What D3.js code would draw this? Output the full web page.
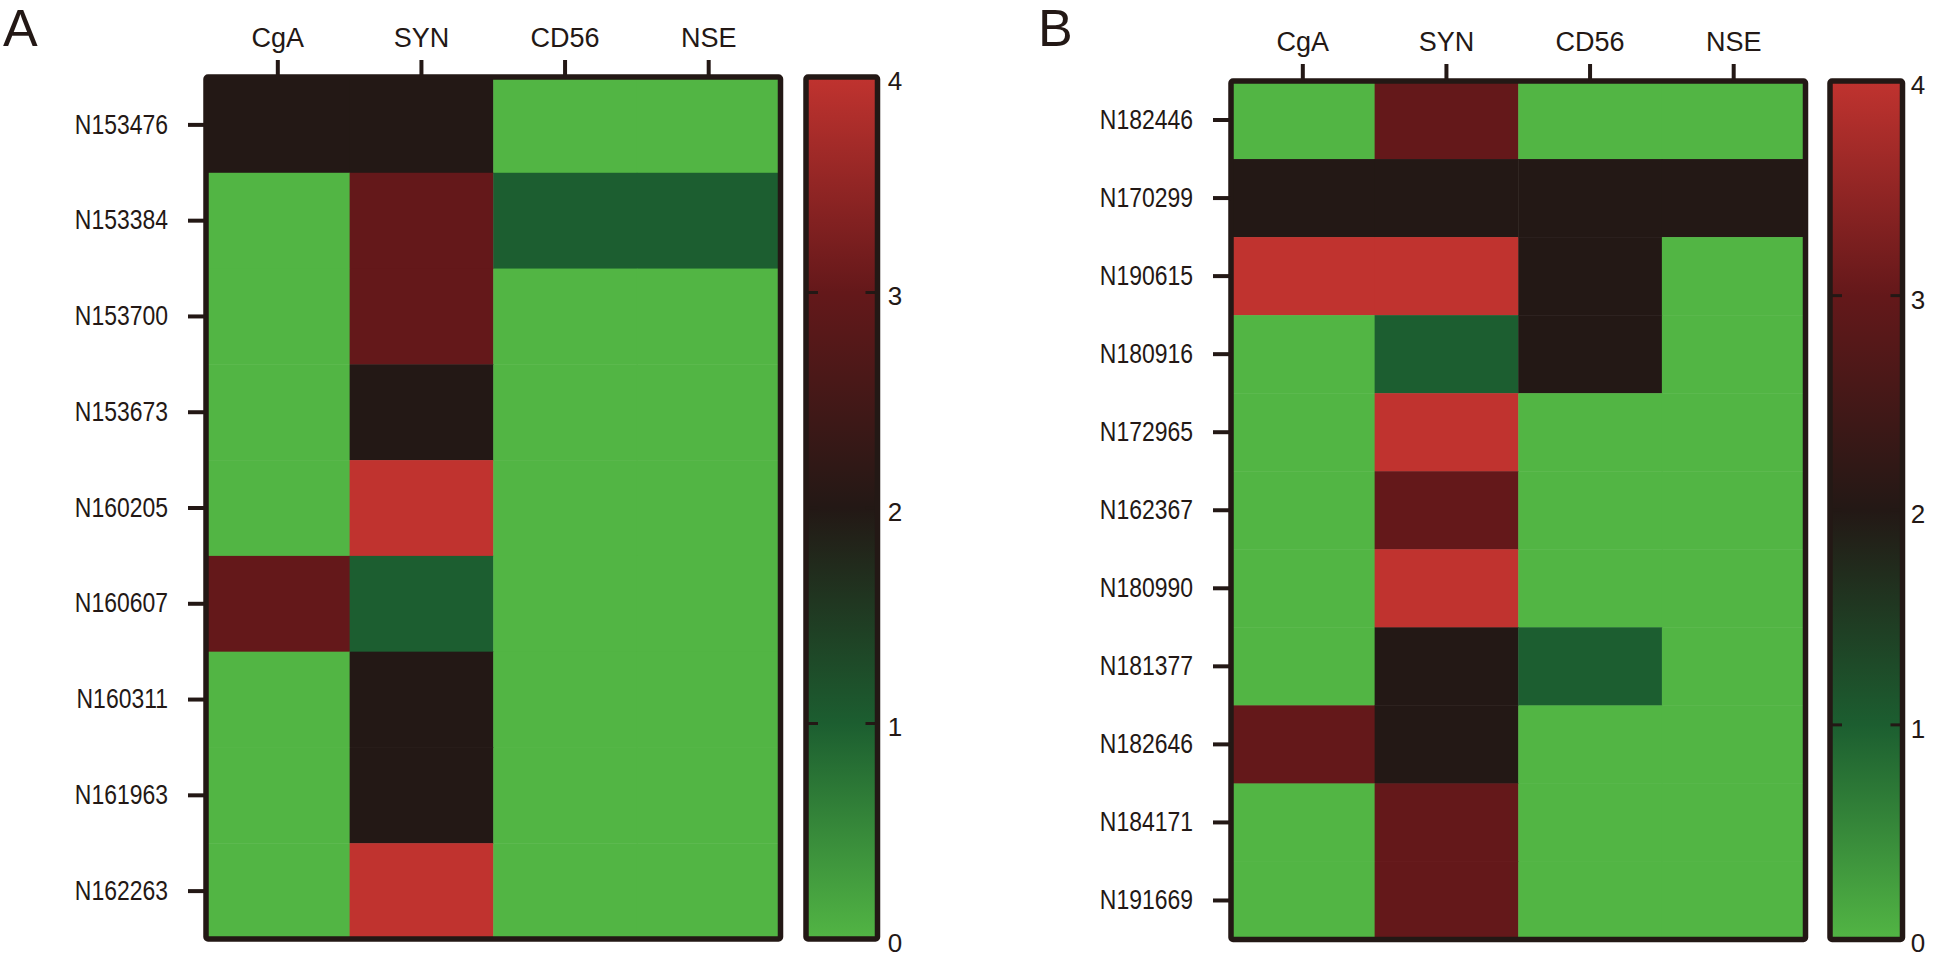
<!DOCTYPE html>
<html>
<head>
<meta charset="utf-8">
<script src="https://cdn.jsdelivr.net/npm/d3@7"></script>
<style>
  html, body { margin: 0; padding: 0; background: #ffffff; }
  svg { display: block; }
  text { font-family: "Liberation Sans", Arial, Helvetica, sans-serif; fill: #231815; }
</style>
</head>
<body>
<svg id="chart" width="1944" height="957"></svg>
<script>
// ---------- data ----------
const markers = ["CgA", "SYN", "CD56", "NSE"];

const samplesA = ["N153476", "N153384", "N153700", "N153673", "N160205",
                  "N160607", "N160311", "N161963", "N162263"];
const valuesA = [
  [2, 2, 0, 0],
  [0, 3, 1, 1],
  [0, 3, 0, 0],
  [0, 2, 0, 0],
  [0, 4, 0, 0],
  [3, 1, 0, 0],
  [0, 2, 0, 0],
  [0, 2, 0, 0],
  [0, 4, 0, 0]
];

const samplesB = ["N182446", "N170299", "N190615", "N180916", "N172965", "N162367",
                  "N180990", "N181377", "N182646", "N184171", "N191669"];
const valuesB = [
  [0, 3, 0, 0],
  [2, 2, 2, 2],
  [4, 4, 2, 0],
  [0, 1, 2, 0],
  [0, 4, 0, 0],
  [0, 3, 0, 0],
  [0, 4, 0, 0],
  [0, 2, 1, 0],
  [3, 2, 0, 0],
  [0, 3, 0, 0],
  [0, 3, 0, 0]
];

const legendTicks = [0, 1, 2, 3, 4];
const innerTicks = [1, 2, 3];
const colorStops = ["#52b544", "#1c5e30", "#231815", "#64181a", "#c0332f"];

// ---------- drawing ----------
const INK = "#231815";
const color = d3.scaleLinear().domain(legendTicks).range(colorStops).interpolate(d3.interpolateRgb);

const svg = d3.select("#chart");
const defs = svg.append("defs");

function drawPanel(cfg) {
  const g = svg.append("g");
  const x = d3.scaleBand().domain(markers).range([cfg.x0, cfg.x1]);
  const y = d3.scaleBand().domain(cfg.rows).range([cfg.y0, cfg.y1]);

  // cells
  const cells = [];
  cfg.rows.forEach((r, i) => markers.forEach((m, j) => cells.push({ r, m, v: cfg.values[i][j] })));
  g.selectAll("rect.cell").data(cells).join("rect")
    .attr("class", "cell")
    .attr("x", d => x(d.m))
    .attr("y", d => y(d.r))
    .attr("width", x.bandwidth() + 0.5)
    .attr("height", y.bandwidth() + 0.5)
    .attr("fill", d => color(d.v));

  // frame
  g.append("rect")
    .attr("x", cfg.x0).attr("y", cfg.y0)
    .attr("width", cfg.x1 - cfg.x0).attr("height", cfg.y1 - cfg.y0)
    .attr("rx", 2)
    .attr("fill", "none").attr("stroke", INK).attr("stroke-width", 5.5);

  // top axis
  const top = g.append("g").attr("transform", `translate(0,${cfg.y0})`)
    .call(d3.axisTop(x).tickSize(17).tickSizeOuter(0).tickPadding(13));
  top.select(".domain").remove();
  top.selectAll(".tick line").attr("stroke", INK).attr("stroke-width", 4);
  top.selectAll(".tick text").attr("font-size", 27).attr("fill", INK).attr("font-family", null);

  // left axis
  const left = g.append("g").attr("transform", `translate(${cfg.x0},0)`)
    .call(d3.axisLeft(y).tickSize(18).tickSizeOuter(0).tickPadding(20));
  left.select(".domain").remove();
  left.selectAll(".tick line").attr("stroke", INK).attr("stroke-width", 4);
  left.selectAll(".tick text").attr("font-size", 27).attr("fill", INK).attr("font-family", null)
    .each(function () {
      const w = this.getComputedTextLength();
      d3.select(this).attr("textLength", w * 0.85).attr("lengthAdjust", "spacingAndGlyphs");
    });

  // panel letter
  g.append("text").attr("x", cfg.letterX).attr("y", 46)
    .attr("font-size", 52).text(cfg.letter);

  // colour bar
  const cy = d3.scaleLinear().domain([0, 4]).range([cfg.y1, cfg.y0]);
  const gid = "grad" + cfg.letter;
  const grad = defs.append("linearGradient").attr("id", gid)
    .attr("x1", 0).attr("x2", 0).attr("y1", 1).attr("y2", 0);
  grad.selectAll("stop").data(legendTicks).join("stop")
    .attr("offset", d => d / 4)
    .attr("stop-color", d => color(d));
  g.append("rect")
    .attr("x", cfg.cb0).attr("y", cfg.y0)
    .attr("width", cfg.cb1 - cfg.cb0).attr("height", cfg.y1 - cfg.y0)
    .attr("fill", `url(#${gid})`);
  // inner ticks on both sides
  g.selectAll("line.cbl").data(innerTicks).join("line")
    .attr("x1", cfg.cb0).attr("x2", cfg.cb0 + 12)
    .attr("y1", d => cy(d)).attr("y2", d => cy(d))
    .attr("stroke", INK).attr("stroke-width", 3);
  g.selectAll("line.cbr").data(innerTicks).join("line")
    .attr("x1", cfg.cb1 - 12).attr("x2", cfg.cb1)
    .attr("y1", d => cy(d)).attr("y2", d => cy(d))
    .attr("stroke", INK).attr("stroke-width", 3);
  g.append("rect")
    .attr("x", cfg.cb0).attr("y", cfg.y0)
    .attr("width", cfg.cb1 - cfg.cb0).attr("height", cfg.y1 - cfg.y0)
    .attr("rx", 2)
    .attr("fill", "none").attr("stroke", INK).attr("stroke-width", 5.5);
  g.selectAll("text.cbt").data(legendTicks).join("text")
    .attr("class", "cbt")
    .attr("x", cfg.cbLabelX)
    .attr("y", d => cy(d) + 6)
    .attr("text-anchor", "middle")
    .attr("dominant-baseline", "middle")
    .attr("font-size", 26)
    .text(d => d);
}

drawPanel({ letter: "A", rows: samplesA, values: valuesA,
  x0: 206, x1: 780.5, y0: 77, y1: 939, cb0: 806, cb1: 877.5, cbLabelX: 895, letterX: 3 });
drawPanel({ letter: "B", rows: samplesB, values: valuesB,
  x0: 1231, x1: 1805.5, y0: 81, y1: 939.5, cb0: 1830, cb1: 1902.5, cbLabelX: 1918, letterX: 1038 });
</script>
</body>
</html>
